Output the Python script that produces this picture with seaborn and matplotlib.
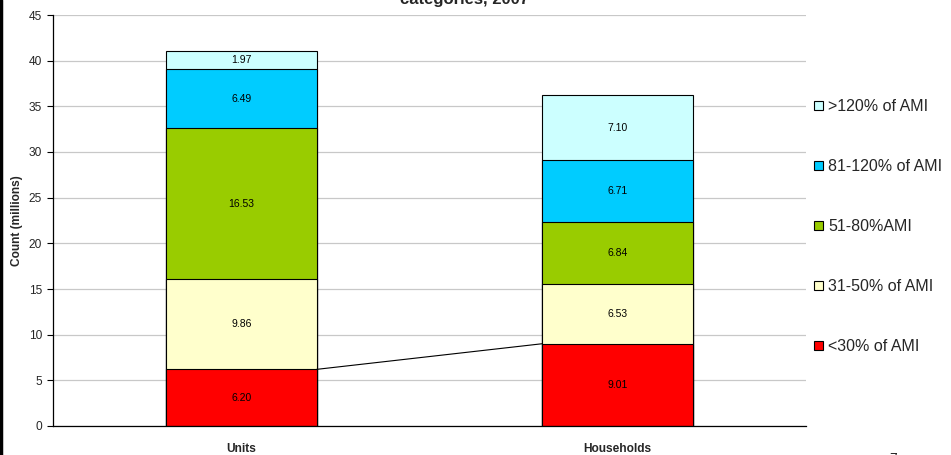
import numpy as np
import pandas as pd
import matplotlib
matplotlib.use("Agg")
import matplotlib.pyplot as plt
from matplotlib.patches import Patch
from matplotlib.lines import Line2D
import seaborn as sns

# ---- data ----
categories = ["Units", "Households"]
series_names = ["<30% of AMI", "31-50% of AMI", "51-80%AMI", "81-120% of AMI", ">120% of AMI"]
lt30 = [6.20, 9.01]
p31_50 = [9.86, 6.53]
p51_80 = [16.53, 6.84]
p81_120 = [6.49, 6.71]
gt120 = [1.97, 7.10]
series_values = [lt30, p31_50, p51_80, p81_120, gt120]
series_colors = ["#FF0000", "#FFFFCC", "#99CC00", "#00CCFF", "#CCFFFF"]
y_ticks = [0, 5, 10, 15, 20, 25, 30, 35, 40, 45]
title_text = "categories, 2007"
y_label = "Count (millions)"

sns.set_theme(style="white")
plt.rcParams["font.family"] = ["Liberation Sans", "DejaVu Sans"]

fig = plt.figure(figsize=(9.51, 4.55), dpi=100)
ax = fig.add_axes([53 / 951, 1 - 426 / 455, (806 - 53) / 951, (426 - 15) / 455])

vals = np.array(series_values)
cum = np.cumsum(vals, axis=0)
df = pd.DataFrame({"cat": categories})

# draw from top layer down so lower layers overlay
for i in range(len(series_names) - 1, -1, -1):
    d = df.copy()
    d["val"] = cum[i]
    sns.barplot(data=d, x="cat", y="val", color=series_colors[i], saturation=1,
                edgecolor="black", linewidth=0.8, width=0.4, ax=ax, zorder=2)

# data labels
for i in range(len(series_names)):
    for j in range(len(categories)):
        mid = cum[i][j] - vals[i][j] / 2
        ax.text(j, mid, f"{vals[i][j]:.2f}", ha="center", va="center",
                fontsize=7.5, color="black", zorder=5)

# series line for the bottom series
ax.plot([0 + 0.2, 1 - 0.2], [cum[0][0], cum[0][1]], color="black", lw=0.8, zorder=4)

ax.set_xlim(-0.5, 1.5)
ax.set_ylim(0, 45)
ax.set_yticks(y_ticks)
ax.set_yticklabels([str(t) for t in y_ticks], fontsize=8.6)
ax.yaxis.grid(True, color="#C8C8C8", lw=0.9)
ax.set_axisbelow(True)
ax.set_xticks([0, 1])
ax.set_xticklabels(categories, fontsize=8.6, fontweight="bold")
ax.set_xticks([-0.5, 0.5, 1.5], minor=True)
ax.tick_params(axis="x", which="major", length=0, pad=12)
ax.tick_params(axis="x", which="minor", length=4, width=0.8, color="black", direction="out")
ax.tick_params(axis="y", length=4, width=0.8, color="black", direction="out", pad=4, left=True)
ax.set_xlabel("")
ax.set_ylabel(y_label, fontsize=8.6, fontweight="bold", labelpad=4)
for s in ["top", "right"]:
    ax.spines[s].set_visible(False)
for s in ["left", "bottom"]:
    ax.spines[s].set_color("black")
    ax.spines[s].set_linewidth(0.9)

# title (cut off at top, as in the source)
fig.text(465 / 951, 1 - 4 / 455, title_text, ha="center", va="baseline",
         fontsize=12, fontweight="bold")

# legend
handles = [Patch(facecolor=series_colors[i], edgecolor="black", linewidth=0.8)
           for i in range(len(series_names) - 1, -1, -1)]
labels = [series_names[i] for i in range(len(series_names) - 1, -1, -1)]
fig.legend(handles, labels, loc="upper left", bbox_to_anchor=(814 / 951, 1 - 99 / 455),
           frameon=False, fontsize=11.5, handlelength=0.55, handleheight=0.55,
           handletextpad=0.35, labelspacing=2.82, borderpad=0, borderaxespad=0)

# left frame line and cut-off page mark
fig.add_artist(Line2D([0.0015, 0.0015], [0, 1], color="black", lw=2.5, transform=fig.transFigure))
fig.text(893 / 951, 3 / 455, "7", ha="center", va="top", fontsize=10)

fig.savefig("out.png", dpi=100)
